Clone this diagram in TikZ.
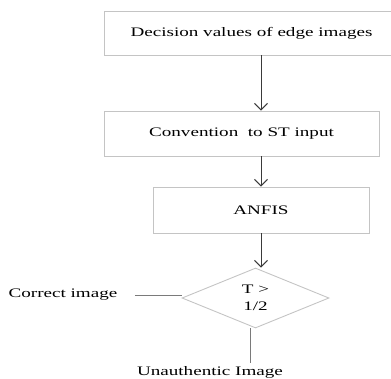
\documentclass[tikz,border=0pt]{standalone}
\usepackage{fontspec}
\setmainfont{Liberation Serif}[FakeStretch=1.47]
\usepackage{tikz}
\usetikzlibrary{positioning,arrows.meta,shapes.geometric}
\definecolor{frame}{HTML}{C4C4C4}
\definecolor{flow}{HTML}{3A3A3A}
\definecolor{tail}{HTML}{7A7A7A}

\begin{document}
\begin{tikzpicture}[
    x=1pt, y=-1pt,
    font=\fontsize{13}{17}\selectfont,
    box/.style={draw=frame, line width=0.9pt, inner sep=0pt, align=center},
    test/.style={diamond, draw=frame, line width=0.9pt, inner sep=0pt, minimum width=147pt, minimum height=60pt, align=center},
    arr/.style={-{Straight Barb[length=6.5pt, width=13pt]}, line width=1pt, draw=flow},
    plain/.style={line width=1pt, draw=tail}
]
    \useasboundingbox (0,0) rectangle (391,378);

    % Main chain
    \node[box, minimum width=295pt, minimum height=44pt] (dec) at (251.5,33) {Decision values of edge images};
    \node[box, minimum width=275pt, minimum height=45pt] (conv) at (241.5,133.5) {Convention~~to ST input};
    \node[box, minimum width=216pt, minimum height=46pt] (anfis) at (261,210) {ANFIS};
    \node[test] (thr) at (255.5,298) {T >\\1/2};

    \draw[arr] (dec.south -| anfis.center) -- (conv.north -| anfis.center);
    \draw[arr] (conv.south -| anfis.center) -- (anfis.north);
    \draw[arr] (anfis.south) -- (thr.north -| anfis.center);

    % Outcomes
    \node (ok) at (63,295) {Correct image};
    \node (bad) at (210,372) {Unauthentic Image};
    \draw[plain] ([xshift=14pt]ok.east) -- (ok.east -| thr.west);
    \draw[plain] ([xshift=-5pt]thr.south) -- ([xshift=-5pt]thr.south |- bad.north);
\end{tikzpicture}
\end{document}
